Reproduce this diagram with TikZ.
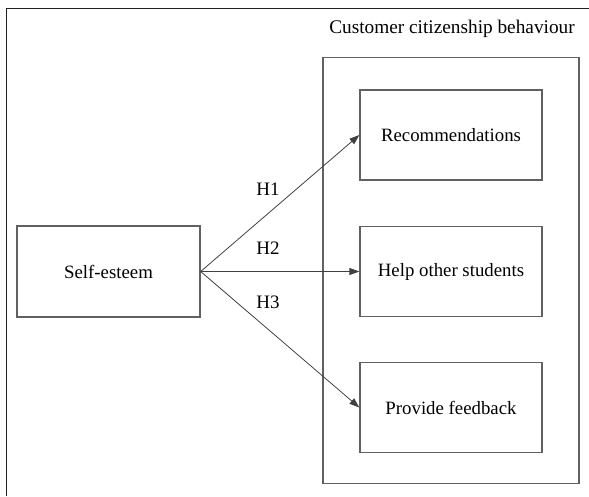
\documentclass[tikz,border=0pt]{standalone}
\usepackage{fontspec}
\setmainfont{Liberation Serif}
\usetikzlibrary{arrows.meta}
\begin{document}
\begin{tikzpicture}[x=1pt,y=-1pt,
  box/.style={draw=black!62,line width=1.3pt,minimum width=182pt,minimum height=90pt,inner sep=0pt,font=\fontsize{18.8}{21}\selectfont},
  arr/.style={draw=black!75,line width=0.8pt,-{Triangle[length=10pt,width=7pt]}},
  hlab/.style={font=\fontsize{19}{21}\selectfont}]
\useasboundingbox (0,0) rectangle (589,496);
\draw[black!88,line width=1pt] (6.5,496) -- (6.5,8.5) -- (589,8.5);
\node[font=\fontsize{19.3}{22}\selectfont] (title) at (452,29) {Customer citizenship behaviour};
\node[draw=black!62,line width=1.3pt,minimum width=256pt,minimum height=426pt,inner sep=0pt] (ccb) at (451,270.5) {};
\node[box] (rec) at (451,135) {Recommendations};
\node[box] (help) at (451,271.5) {Help other students};
\node[box] (fb) at (451,407.5) {Provide feedback};
\node[box,minimum width=183pt,minimum height=91pt] (se) at (108.5,271.5) {Self-esteem};
\draw[arr] (se.east) -- (rec.west);
\draw[arr] (se.east) -- (help.west);
\draw[arr] (se.east) -- (fb.west);
\node[hlab] (h1) at (268,189) {H1};
\node[hlab] (h2) at (268,248) {H2};
\node[hlab] (h3) at (268,302) {H3};
\end{tikzpicture}
\end{document}
